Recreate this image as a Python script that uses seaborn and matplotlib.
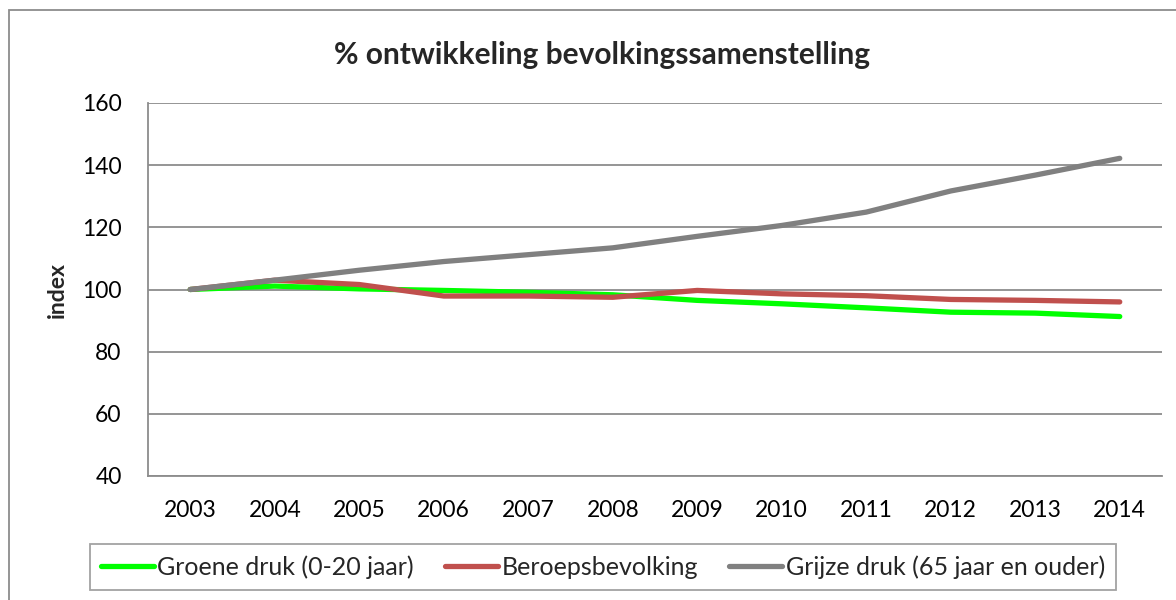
import matplotlib
matplotlib.use('Agg')
import matplotlib.pyplot as plt
import pandas as pd
import seaborn as sns
from matplotlib.patches import Rectangle

# Data (index, 2003 = 100)
jaren = [2003, 2004, 2005, 2006, 2007, 2008, 2009, 2010, 2011, 2012, 2013, 2014]
groene_druk = [100.0, 101.1, 100.2, 99.7, 99.1, 98.3, 96.5, 95.4, 94.1, 92.7, 92.4, 91.3]
beroepsbevolking = [100.0, 103.0, 101.6, 97.9, 97.9, 97.5, 99.7, 98.6, 98.0, 96.8, 96.5, 96.0]
grijze_druk = [100.0, 103.0, 106.2, 109.0, 111.2, 113.4, 117.1, 120.6, 124.9, 131.7, 136.8, 142.2]

reeksen = ["Groene druk (0-20 jaar)", "Beroepsbevolking", "Grijze druk (65 jaar en ouder)"]
kleuren = ["#00FF00", "#C0504D", "#808080"]

df = pd.DataFrame({
    "jaar": jaren * 3,
    "waarde": groene_druk + beroepsbevolking + grijze_druk,
    "reeks": [reeksen[0]] * 12 + [reeksen[1]] * 12 + [reeksen[2]] * 12,
})
df["pos"] = df["jaar"] - jaren[0]

sns.set_theme(style="white")
plt.rcParams['font.family'] = ['Lato', 'DejaVu Sans']

fig = plt.figure(figsize=(11.76, 6), dpi=100)
ax = fig.add_axes([148 / 1176, 1 - 476 / 600, 1014 / 1176, 373 / 600])

sns.lineplot(data=df, x="pos", y="waarde", hue="reeks", hue_order=reeksen,
             palette=kleuren, linewidth=3.8, ax=ax, legend=False,
             solid_capstyle="round", solid_joinstyle="round")

ax.set_xlim(-0.5, len(jaren) - 0.5)
ax.set_ylim(40, 160)
ax.set_yticks(range(40, 161, 20))
ax.set_xticks(range(len(jaren)))
ax.set_xticklabels([str(j) for j in jaren])
ax.tick_params(axis="both", length=0, labelsize=16.5, colors="black")
ax.tick_params(axis="x", pad=17)
ax.tick_params(axis="y", pad=19)
ax.yaxis.grid(True, color="#8c8c8c", linewidth=1.3)
ax.set_axisbelow(True)
for side in ["top", "right"]:
    ax.spines[side].set_visible(False)
for side in ["left", "bottom"]:
    ax.spines[side].set_color("#8c8c8c")
    ax.spines[side].set_linewidth(1.3)

ax.set_xlabel("")
ax.set_ylabel("index", fontsize=16.5, fontweight="bold", labelpad=10)
fig.text(602 / 1176, 1 - 55 / 600, "% ontwikkeling bevolkingssamenstelling",
         ha="center", va="center", fontsize=21.5, fontweight="bold")

# Legend with boxed frame below the plot
handles = [plt.Line2D([0], [0], color=c, linewidth=3.8, solid_capstyle="round") for c in kleuren]
leg = fig.legend(handles, reeksen, loc="center", ncol=3,
                 bbox_to_anchor=(603 / 1176, 1 - 567 / 600), fontsize=18,
                 frameon=True, fancybox=False, handlelength=2.1, handletextpad=0.15,
                 columnspacing=1.25, borderpad=0.45)
leg.get_frame().set_edgecolor("#8c8c8c")
leg.get_frame().set_linewidth(1.3)

# Chart area border (right and bottom edges fall outside the image)
fig.patches.append(Rectangle((9 / 1176, -5 / 600), 1180 / 1176, 595 / 600,
                             transform=fig.transFigure, fill=False,
                             edgecolor="#8c8c8c", linewidth=1.3))

fig.savefig("out.png", dpi=100)
plt.close(fig)
